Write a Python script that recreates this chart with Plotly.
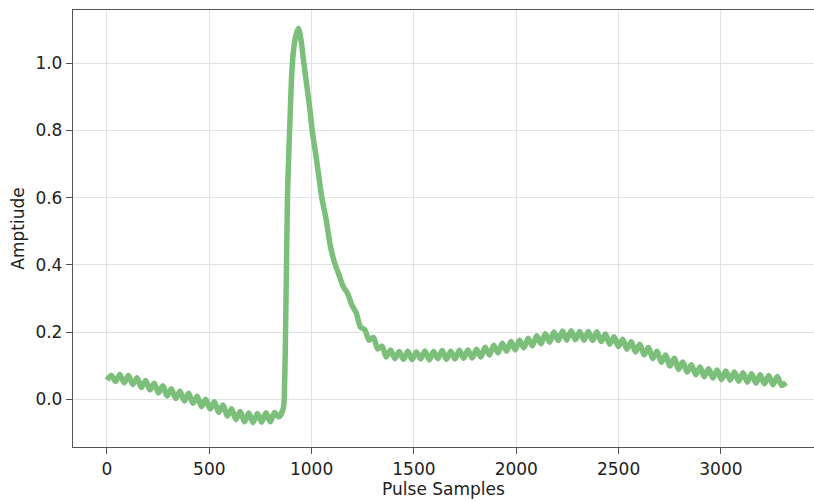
import plotly.graph_objects as go

# Sample index (x) and amplitude (y)
samples = [
    0, 21, 42, 63, 84, 105, 126, 147, 168, 189, 210, 231, 252, 273, 294, 315, 336, 357, 378, 399,
    420, 441, 462, 483, 504, 525, 546, 567, 588, 609, 630, 651, 672, 693, 714, 735, 756, 777, 798, 819,
    840, 861,
    868, 875, 882, 889, 896, 903, 912, 922, 935, 948,
    960, 975, 990, 1005, 1020, 1035, 1050, 1071, 1092, 1113, 1134, 1155, 1176, 1197, 1218, 1239, 1260,
    1281, 1302, 1323, 1344, 1365, 1386, 1407,
    1428, 1449, 1470, 1491, 1512, 1533, 1554, 1575, 1596, 1617, 1638, 1659, 1680, 1701, 1722, 1743,
    1764, 1785, 1806, 1827, 1848, 1869, 1890, 1911, 1932, 1953, 1974, 1995, 2016, 2037, 2058, 2079,
    2100, 2121, 2142, 2163, 2184, 2205, 2226, 2247, 2268, 2289, 2310, 2331, 2352, 2373, 2394, 2415,
    2436, 2457, 2478, 2499, 2520, 2541, 2562, 2583, 2604, 2625, 2646, 2667, 2688, 2709, 2730, 2751,
    2772, 2793, 2814, 2835, 2856, 2877, 2898, 2919, 2940, 2961, 2982, 3003, 3024, 3045, 3066, 3087,
    3108, 3129, 3150, 3171, 3192, 3213, 3234, 3255, 3276, 3297, 3318,
]

amplitude = [
    0.057, 0.071, 0.053, 0.074, 0.049, 0.071, 0.044, 0.064, 0.035, 0.056, 0.028, 0.048, 0.019, 0.040,
    0.010, 0.031, 0.002, 0.024, -0.005, 0.018, -0.012, 0.009, -0.022, 0.000, -0.029, -0.007, -0.039,
    -0.017, -0.050, -0.028, -0.060, -0.036, -0.067, -0.041, -0.069, -0.042, -0.068, -0.040, -0.067,
    -0.039, -0.052, -0.028,
    0.05, 0.30, 0.60, 0.74, 0.86, 0.97, 1.04, 1.08, 1.104, 1.07,
    1.01, 0.94, 0.87, 0.79, 0.73, 0.665, 0.60, 0.535, 0.455, 0.405, 0.37, 0.335, 0.315, 0.28, 0.257,
    0.215, 0.207, 0.176, 0.184, 0.150, 0.158, 0.126, 0.147, 0.121,
    0.142, 0.119, 0.143, 0.118, 0.141, 0.120, 0.144, 0.117, 0.142, 0.121, 0.145, 0.119, 0.143, 0.120,
    0.146, 0.122, 0.147, 0.123, 0.149, 0.126, 0.155, 0.132, 0.161, 0.138, 0.167, 0.143, 0.172, 0.147,
    0.176, 0.153, 0.182, 0.159, 0.189, 0.165, 0.195, 0.170, 0.200, 0.175, 0.203, 0.176, 0.204, 0.177,
    0.202, 0.176, 0.202, 0.175, 0.201, 0.172, 0.194, 0.164, 0.186, 0.157, 0.179, 0.149, 0.171, 0.141,
    0.164, 0.132, 0.154, 0.121, 0.143, 0.110, 0.132, 0.099, 0.122, 0.089, 0.111, 0.081, 0.103, 0.073,
    0.096, 0.067, 0.091, 0.063, 0.087, 0.059, 0.084, 0.057, 0.081, 0.054, 0.079, 0.051, 0.076, 0.048,
    0.073, 0.046, 0.071, 0.043, 0.068, 0.041, 0.050,
]

x_ticks = [0, 500, 1000, 1500, 2000, 2500, 3000]
y_ticks = [0.0, 0.2, 0.4, 0.6, 0.8, 1.0]
y_tick_labels = ["0.0", "0.2", "0.4", "0.6", "0.8", "1.0"]

FONT = "DejaVu Sans"
AXIS = "#555555"
GRID = "#e2e2e2"

fig = go.Figure(
    go.Scatter(
        x=samples,
        y=amplitude,
        mode="lines",
        line=dict(color="#7bbf7b", width=5.5, shape="spline", smoothing=0.8),
        hoverinfo="skip",
    )
)

fig.update_layout(
    width=814,
    height=502,
    margin=dict(l=73, r=0, t=10, b=55),
    paper_bgcolor="white",
    plot_bgcolor="white",
    showlegend=False,
    font=dict(family=FONT, size=17, color="#222222"),
)

fig.update_xaxes(
    range=[-166, 3455],
    tickvals=x_ticks,
    ticktext=[str(v) for v in x_ticks],
    showgrid=True,
    gridcolor=GRID,
    gridwidth=1,
    zeroline=False,
    showline=True,
    linecolor=AXIS,
    linewidth=1.3,
    mirror=True,
    ticks="outside",
    ticklen=6,
    tickcolor=AXIS,
    tickfont=dict(family=FONT, size=17, color="#222222"),
    title=dict(text="Pulse Samples", font=dict(family=FONT, size=17, color="#222222"), standoff=4),
)

fig.update_yaxes(
    range=[-0.142, 1.1586],
    tickvals=y_ticks,
    ticktext=y_tick_labels,
    showgrid=True,
    gridcolor=GRID,
    gridwidth=1,
    zeroline=False,
    showline=True,
    linecolor=AXIS,
    linewidth=1.3,
    mirror=False,
    ticks="outside",
    ticklen=6,
    tickcolor=AXIS,
    tickfont=dict(family=FONT, size=17, color="#222222"),
    title=dict(text="Amptiude", font=dict(family=FONT, size=17, color="#222222"), standoff=6),
)

fig.write_html("out.html")
